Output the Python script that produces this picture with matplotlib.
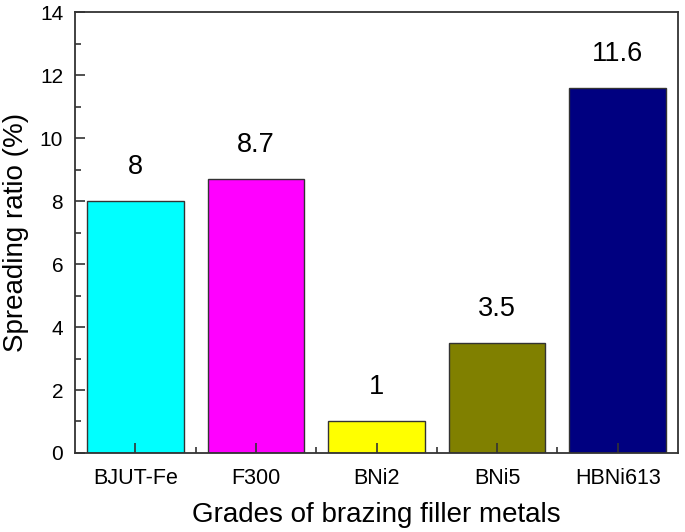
import matplotlib
matplotlib.use("Agg")
import matplotlib.pyplot as plt
from matplotlib.ticker import MultipleLocator

categories = ["BJUT-Fe", "F300", "BNi2", "BNi5", "HBNi613"]
values = [8, 8.7, 1, 3.5, 11.6]
value_labels = ["8", "8.7", "1", "3.5", "11.6"]
colors = ["#00FFFF", "#FF00FF", "#FFFF00", "#808000", "#000080"]

plt.rcParams['font.family'] = ['Liberation Sans', 'DejaVu Sans']

fig = plt.figure(figsize=(6.85, 5.32), dpi=100)
ax = fig.add_axes([0.1095, 0.1485, 0.8803, 0.8289])

x = list(range(len(categories)))
bars = ax.bar(x, values, width=0.8, color=colors, edgecolor="#333333", linewidth=1.0)

for xi, v, lab in zip(x, values, value_labels):
    ax.annotate(lab, (xi, v), xytext=(0, 19.5), textcoords="offset points",
                ha="center", va="baseline", fontsize=19.5)

ax.set_xlim(-0.5, 4.5)
ax.set_ylim(0, 14)
ax.set_xticks(x)
ax.set_xticklabels(categories)
ax.set_xticks([0.5, 1.5, 2.5, 3.5], minor=True)
ax.yaxis.set_major_locator(MultipleLocator(2))
ax.yaxis.set_minor_locator(MultipleLocator(1))
ax.tick_params(axis="both", which="major", direction="in", length=7, width=1.2, labelsize=15, color="#333333")
ax.tick_params(axis="both", which="minor", direction="in", length=4, width=1.2, color="#333333")
ax.tick_params(axis="x", which="major", labelsize=15.5, pad=10.5)
ax.tick_params(axis="y", which="major", pad=8.5)
for s in ax.spines.values():
    s.set_linewidth(1.3)
    s.set_color("#333333")

ax.set_xlabel("Grades of brazing filler metals", fontsize=20, labelpad=10)
ax.set_ylabel("Spreading ratio (%)", fontsize=20, labelpad=7.5)

fig.savefig("out.png", dpi=100)
